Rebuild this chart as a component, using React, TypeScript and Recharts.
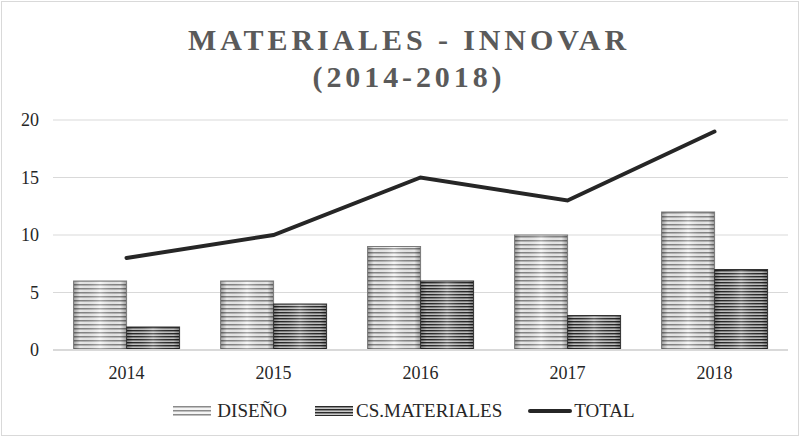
import { ComposedChart, Bar, Line, XAxis, YAxis, CartesianGrid, Legend } from 'recharts'

const years = ['2014', '2015', '2016', '2017', '2018']
const diseno = [6, 6, 9, 10, 12]
const csMateriales = [2, 4, 6, 3, 7]
const total = [8, 10, 15, 13, 19]
const yTicks = [0, 5, 10, 15, 20]

const chartData = years.map((year, i) => ({
  year,
  diseno: diseno[i],
  cs: csMateriales[i],
  total: total[i]
}))

const serif = '"Liberation Serif", "DejaVu Serif", serif'

// bar drawn with stripes plus an edge shading overlay
const stripedBar = (patternId: string, edge: string) => (props: any) => {
  const { x, y, width, height } = props
  if (!height || height <= 0) return null
  return (
    <g>
      <rect x={x} y={y} width={width} height={height} fill={`url(#${patternId})`} />
      <rect x={x} y={y} width={width} height={height} fill="url(#edgeShade)" />
      <rect x={x} y={y} width={width} height={height} fill="none" stroke={edge} strokeWidth={1} />
    </g>
  )
}

const renderLegend = () => (
  <div style={{ height: 20, display: 'flex', justifyContent: 'center', alignItems: 'center', paddingLeft: 10, fontFamily: serif, fontSize: 19, lineHeight: '20px', color: '#262626' }}>
    <svg width={38} height={10} style={{ marginRight: 6 }}>
      <rect x={0} y={0} width={38} height={10} fill="url(#stripesLight)" />
    </svg>
    <span style={{ marginRight: 28 }}>DISEÑO</span>
    <svg width={38} height={10} style={{ marginRight: 3 }}>
      <rect x={0} y={0} width={38} height={10} fill="url(#stripesDark)" />
    </svg>
    <span style={{ marginRight: 26 }}>CS.MATERIALES</span>
    <svg width={44} height={10} style={{ marginRight: 2 }}>
      <line x1={2} y1={5} x2={42} y2={5} stroke="#262626" strokeWidth={4} strokeLinecap="round" />
    </svg>
    <span>TOTAL</span>
  </div>
)

export default function App() {
  return (
    <div style={{ position: 'absolute', left: 0, top: 0, width: 802, height: 439, background: '#fff' }}>
      <div style={{ position: 'absolute', left: 1, top: 1, width: 798, height: 435, border: '1px solid #d9d9d9', boxSizing: 'border-box' }} />
      <div
        style={{
          position: 'absolute',
          left: 8,
          top: 21,
          width: 802,
          textAlign: 'center',
          fontFamily: serif,
          fontWeight: 'bold',
          fontSize: 30,
          letterSpacing: 3.9,
          lineHeight: '37px',
          color: '#5a5a5a'
        }}
      >
        <div>MATERIALES - INNOVAR</div>
        <div>(2014-2018)</div>
      </div>
      <ComposedChart
        width={802}
        height={439}
        data={chartData}
        margin={{ top: 120, right: 14, left: 10, bottom: 0 }}
        barGap={0}
        barCategoryGap="14%"
        style={{ position: 'absolute', left: 0, top: 0 }}
      >
        <defs>
          <pattern id="stripesLight" width={4} height={4} patternUnits="userSpaceOnUse">
            <rect x={0} y={0} width={4} height={4} fill="#f4f4f4" />
            <rect x={0} y={0} width={4} height={1.5} fill="#8a8a8a" />
          </pattern>
          <pattern id="stripesDark" width={3} height={3} patternUnits="userSpaceOnUse">
            <rect x={0} y={0} width={3} height={3} fill="#c8c8c8" />
            <rect x={0} y={0} width={3} height={1.4} fill="#2a2a2a" />
          </pattern>
          <linearGradient id="edgeShade" x1="0" y1="0" x2="1" y2="0">
            <stop offset="0%" stopColor="#000" stopOpacity={0.35} />
            <stop offset="12%" stopColor="#000" stopOpacity={0.05} />
            <stop offset="50%" stopColor="#fff" stopOpacity={0.25} />
            <stop offset="88%" stopColor="#000" stopOpacity={0.05} />
            <stop offset="100%" stopColor="#000" stopOpacity={0.35} />
          </linearGradient>
        </defs>
        <CartesianGrid vertical={false} stroke="#d9d9d9" strokeWidth={1} />
        <XAxis
          dataKey="year"
          axisLine={{ stroke: '#d9d9d9', strokeWidth: 2 }}
          tickLine={false}
          tickMargin={10}
          height={69}
          tick={{ fill: '#262626', fontSize: 18, fontFamily: serif }}
        />
        <YAxis
          domain={[0, 20]}
          ticks={yTicks}
          width={43}
          axisLine={false}
          tickLine={false}
          tickMargin={8}
          tick={{ fill: '#262626', fontSize: 18, fontFamily: serif }}
        />
        <Legend verticalAlign="bottom" wrapperStyle={{ bottom: 18 }} content={renderLegend} />
        <Bar dataKey="diseno" name="DISEÑO" shape={stripedBar('stripesLight', '#7a7a7a')} isAnimationActive={false} />
        <Bar dataKey="cs" name="CS.MATERIALES" shape={stripedBar('stripesDark', '#333333')} isAnimationActive={false} />
        <Line
          type="linear"
          dataKey="total"
          name="TOTAL"
          stroke="#262626"
          strokeWidth={4}
          strokeLinecap="round"
          dot={false}
          activeDot={false}
          isAnimationActive={false}
        />
      </ComposedChart>
    </div>
  )
}
